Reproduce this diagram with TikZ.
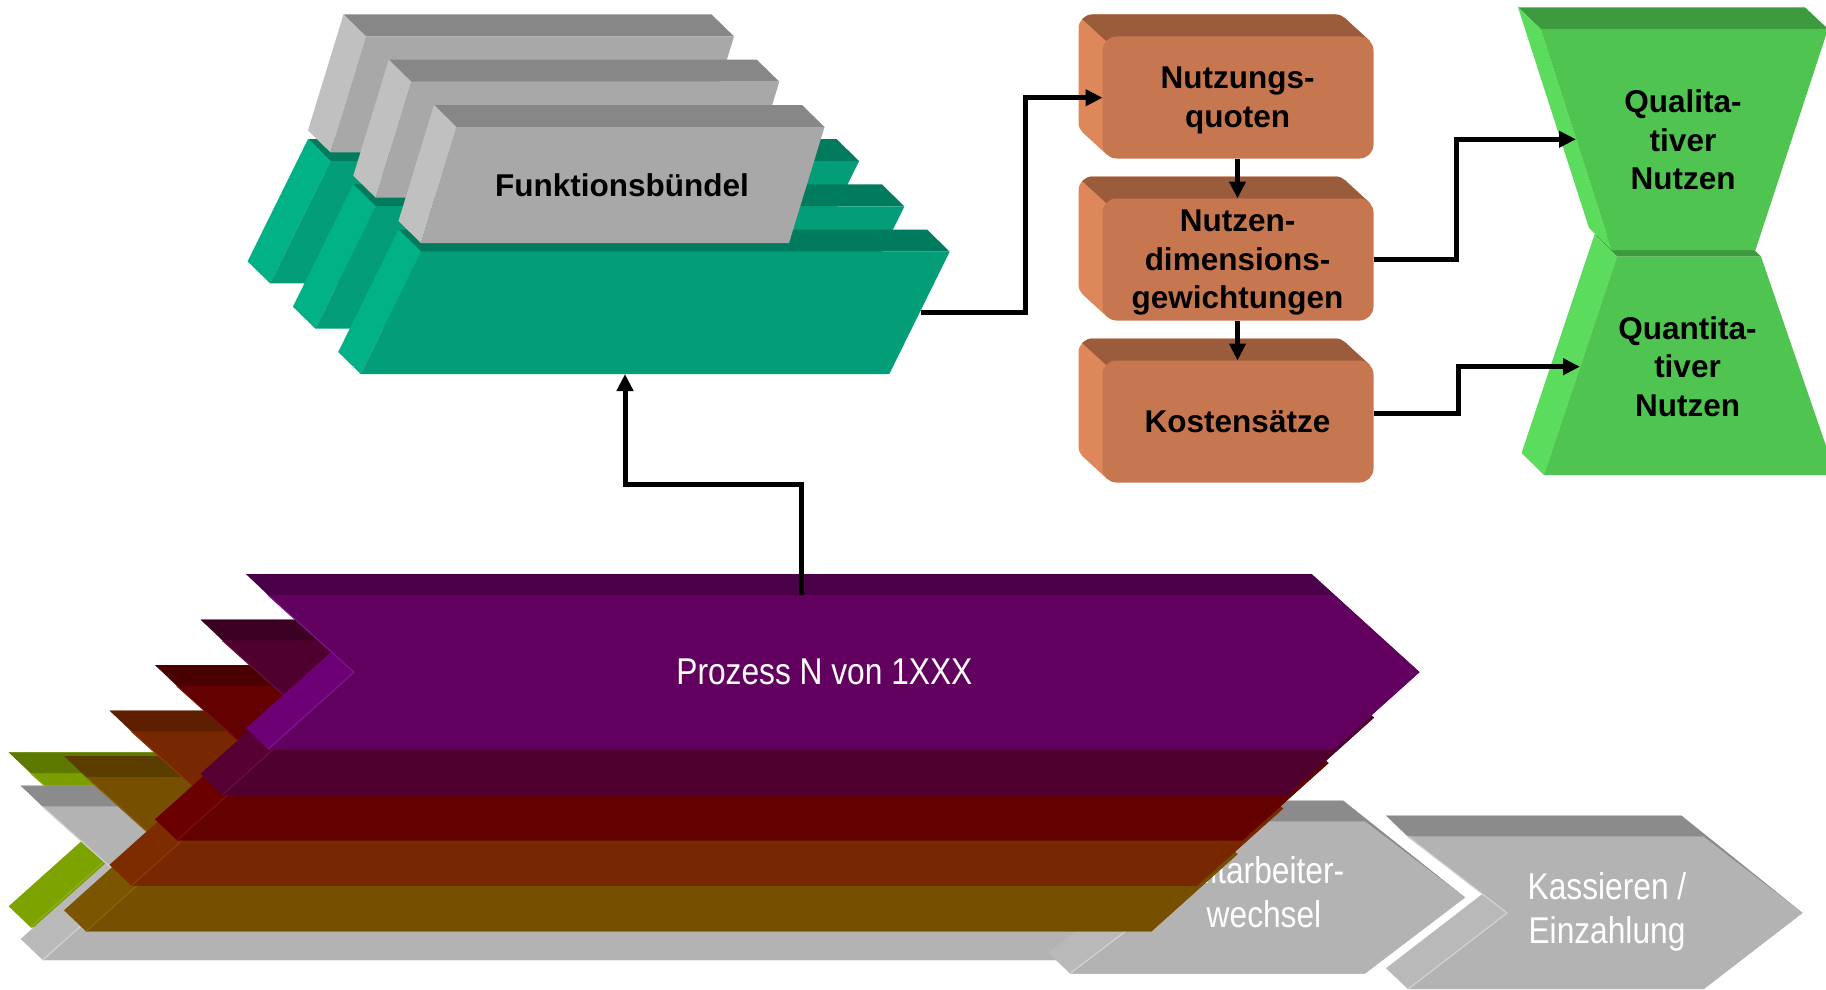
\documentclass[tikz,border=0pt]{standalone}
\usepackage{fontspec}
\setmainfont{Liberation Sans}
\newfontfamily\narrowsans[FakeStretch=0.85]{Liberation Sans}
\usetikzlibrary{arrows.meta}

% grey and teal blocks of the function bundle
\definecolor{gbfront}{HTML}{A8A8A8}
\definecolor{gbtop}{HTML}{878787}
\definecolor{gbside}{HTML}{C0C0C0}
\definecolor{tefront}{HTML}{039E78}
\definecolor{tetop}{HTML}{007B5D}
\definecolor{teside}{HTML}{00B286}
% rounded orange blocks
\definecolor{orfront}{HTML}{C77750}
\definecolor{ortop}{HTML}{9B5C3C}
\definecolor{orside}{HTML}{DE875A}
% hourglass
\definecolor{hgfront}{HTML}{50C450}
\definecolor{hgtop}{HTML}{3E9A3E}
\definecolor{hgside}{HTML}{5CDC5C}
% process chevrons
\definecolor{pufront}{HTML}{620060}
\definecolor{putop}{HTML}{4A0048}
\definecolor{puside}{HTML}{6C0074}
\definecolor{puedge}{HTML}{7E1590}
\definecolor{mafront}{HTML}{4F002E}
\definecolor{matop}{HTML}{3C0023}
\definecolor{maside}{HTML}{570034}
\definecolor{maedge}{HTML}{66103F}
\definecolor{refront}{HTML}{630000}
\definecolor{retop}{HTML}{4A0000}
\definecolor{reside}{HTML}{6B0000}
\definecolor{reedge}{HTML}{7A1010}
\definecolor{brfront}{HTML}{782800}
\definecolor{brtop}{HTML}{5D1F00}
\definecolor{brside}{HTML}{7D2C00}
\definecolor{bredge}{HTML}{8A3A10}
\definecolor{olfront}{HTML}{765000}
\definecolor{oltop}{HTML}{5B3D00}
\definecolor{olside}{HTML}{7B5500}
\definecolor{oledge}{HTML}{8A6410}
\definecolor{gnfront}{HTML}{7A9D00}
\definecolor{gntop}{HTML}{5E7900}
\definecolor{gnside}{HTML}{7DA300}
\definecolor{gnedge}{HTML}{8CB020}
\definecolor{gyfront}{HTML}{B3B3B3}
\definecolor{gytop}{HTML}{8B8B8B}
\definecolor{gyside}{HTML}{B9B9B9}
\definecolor{gyedge}{HTML}{D2D2D2}

\tikzset{
  boldlabel/.style={font=\fontsize{31.5}{38.5}\selectfont\bfseries, align=center, text=black, inner sep=0pt},
  steplabel/.style={font=\narrowsans\fontsize{37.3}{44}\selectfont, align=center, text=white, inner sep=0pt},
  conn/.style={line width=5pt, line join=miter, -{Triangle[length=17pt,width=16pt]}},
}

% oblique block: #1 colour set, #2/#3 front top-left, #4 width, #5 height, #6 lean of the front
\newcommand{\obliquebox}[6]{%
  \fill[#1top] (#2-22.5,#3-22) -- (#2+#4-22.5,#3-22) -- (#2+#4,#3) -- (#2,#3) -- cycle;
  \fill[#1side] (#2-22.5,#3-22) -- (#2,#3) -- (#2-#6,#3+#5) -- (#2-#6-22.5,#3+#5-22) -- cycle;
  \fill[#1front] (#2,#3) -- (#2+#4,#3) -- (#2+#4-#6,#3+#5) -- (#2-#6,#3+#5) -- cycle;
}

% rounded block: #2/#3 front top-left, #4/#5 front bottom-right
\newcommand{\roundbox}[4]{%
  \fill[orside, rounded corners=14pt] (#1-24,#2-22) rectangle (#3-24,#4-22);
  \fill[orside] (#3-28.1,#2-17.9) -- (#3-4.1,#2+4.1) -- (#1+4.1,#4-4.1) -- (#1-19.9,#4-26.1) -- cycle;
  \begin{scope}
    \clip (#1-46,#2-41) -- (#1+414,#2+380.7) -- (#1+414,#2-41) -- cycle;
    \fill[ortop, rounded corners=14pt] (#1-24,#2-22) rectangle (#3-24,#4-22);
    \fill[ortop] (#3-28.1,#2-17.9) -- (#3-4.1,#2+4.1) -- (#1+4.1,#4-4.1) -- (#1-19.9,#4-26.1) -- cycle;
  \end{scope}
  \fill[orfront, rounded corners=14pt] (#1,#2) rectangle (#3,#4);
}

% chevron: #1 colour set, #2/#3 front top-left, #4 body length, #5 tip depth, #6 height
\newcommand{\chevronshape}[6]{%
  \fill[#1side] (#2-22,#3-21) -- (#2+#4-22,#3-21) -- (#2+#4+#5,#3+#6/2) -- (#2+#4,#3+#6)
    -- (#2,#3+#6) -- (#2-22,#3+#6-21) -- (#2+#5-22,#3+#6/2-21) -- cycle;
  \fill[#1top] (#2-22,#3-21) -- (#2+#4-22,#3-21) -- (#2+#4+#5,#3+#6/2) -- (#2+#4,#3) -- (#2,#3) -- cycle;
  \fill[#1front] (#2,#3) -- (#2+#4,#3) -- (#2+#4+#5,#3+#6/2) -- (#2+#4,#3+#6)
    -- (#2,#3+#6) -- (#2+#5,#3+#6/2) -- cycle;
  \draw[#1edge, line width=1.2pt] (#2,#3) -- (#2+#5,#3+#6/2) -- (#2,#3+#6);
}

\begin{document}
\begin{tikzpicture}[x=1pt,y=-1pt]
\useasboundingbox (0,0) rectangle (1826,990);
\fill[white] (0,0) rectangle (1826,990);

% ---- function bundle: three teal slabs carrying three grey blocks
\obliquebox{te}{330.5}{161.1}{528.6}{122.3}{60.4}
\obliquebox{gb}{366}{36.4}{368}{116}{35.5}
\obliquebox{te}{375.8}{206.4}{528.6}{122.3}{60.4}
\obliquebox{gb}{411.3}{81.7}{368}{116}{35.5}
\obliquebox{te}{421.1}{251.7}{528.6}{122.3}{60.4}
\obliquebox{gb}{456.5}{127}{368}{116}{35.5}
\node[boldlabel] (fb-label) at (622,185.5) {Funktionsbündel};

% ---- rating chain
\roundbox{1102.5}{36.5}{1373.5}{158.5}
\roundbox{1102.5}{198.5}{1373.5}{320.5}
\roundbox{1102.5}{360.5}{1373.5}{482.5}
\node[boldlabel] (nq-label) at (1237.5,100.6) {Nutzungs-\\quoten};
\node[boldlabel] (nd-label) at (1237.5,262.7) {Nutzen-\\dimensions-\\gewichtungen};
\node[boldlabel] (ks-label) at (1237.5,421.7) {Kostensätze};

% ---- benefit hourglass
\fill[hgtop] (1594.5,234.5) -- (1738.5,234.5) -- (1761,256.5) -- (1617,256.5) -- cycle;
\fill[hgside] (1594.5,234.5) -- (1617,256.5) -- (1544,475) -- (1521.5,453) -- cycle;
\fill[hgfront] (1617,256.5) -- (1761,256.5) -- (1836,475) -- (1544,475) -- cycle;
\fill[hgtop] (1518,7.3) -- (1805,7.3) -- (1828,29) -- (1540.7,29) -- cycle;
\fill[hgside] (1518,7.3) -- (1540.7,29) -- (1611.7,250) -- (1589,228) -- cycle;
\fill[hgfront] (1540.7,29) -- (1828,29) -- (1755.5,250) -- (1611.7,250) -- cycle;
\node[boldlabel] (ql-label) at (1683,139.9) {Qualita-\\tiver\\Nutzen};
\node[boldlabel] (qt-label) at (1687.5,366.5) {Quantita-\\tiver\\Nutzen};

% ---- process chevrons
\chevronshape{gn}{30.7}{773.3}{1065.5}{86}{154}
\chevronshape{gy}{42.7}{806.7}{1065.5}{86}{153.3}
\chevronshape{gy}{1070}{821.5}{295}{100}{152}
\node[steplabel] (mw-label) at (1264,892) {Mitarbeiter-\\wechsel};
\chevronshape{gy}{1408}{836.7}{295.5}{99}{152.5}
\node[steplabel] (ka-label) at (1607,912) {Kassieren /\\Einzahlung};
\chevronshape{ol}{86}{777}{1065.5}{86}{154.3}
\chevronshape{br}{131.5}{731.5}{1065.5}{86}{154.3}
\chevronshape{re}{177}{686}{1065.5}{86}{154.3}
\chevronshape{ma}{222.5}{640.5}{1065.5}{86}{154.3}
\chevronshape{pu}{268}{595}{1065.5}{86}{154.3}
\node[steplabel] (pz-label) at (824.4,672) {Prozess N von 1XXX};

% ---- connectors
\coordinate (pz-out) at (801,595);
\coordinate (fb-in) at (625,374);
\coordinate (fb-out) at (920.6,312);
\coordinate (nq-in) at (1102.5,97.7);
\coordinate (nq-out) at (1237.5,158.5);
\coordinate (nd-in) at (1237.5,198.5);
\coordinate (nd-out) at (1237.5,320.5);
\coordinate (ks-in) at (1237.5,360.5);
\coordinate (nd-side) at (1373.5,259);
\coordinate (ks-side) at (1373.5,413);
\coordinate (ql-in) at (1576,139.3);
\coordinate (qt-in) at (1580,366.7);

\draw[conn] (pz-out) -- ++(0,-111) -| (fb-in);
\draw[conn] (fb-out) -- ++(104.4,0) |- (nq-in);
\draw[conn] (nq-out) -- (nd-in);
\draw[conn] (nd-out) -- (ks-in);
\draw[conn] (nd-side) -- ++(82.5,0) |- (ql-in);
\draw[conn] (ks-side) -- ++(84.5,0) |- (qt-in);
\end{tikzpicture}
\end{document}
